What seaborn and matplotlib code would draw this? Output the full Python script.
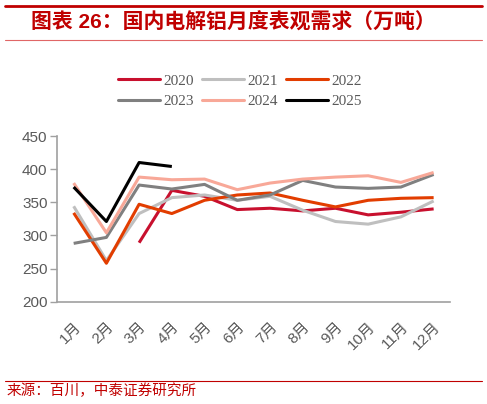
import numpy as np
import pandas as pd
import matplotlib
matplotlib.use("Agg")
import matplotlib.pyplot as plt
from matplotlib.lines import Line2D
import seaborn as sns

# monthly apparent demand, 10k tonnes
months = ["1月", "2月", "3月", "4月", "5月", "6月", "7月", "8月", "9月", "10月", "11月", "12月"]
years = ["2020", "2021", "2022", "2023", "2024", "2025"]
nan = np.nan
y2020 = [nan, nan, 289, 368, 359, 339, 341, 337, 341, 331, 335, 340]
y2021 = [344, 262, 333, 357, 361, 353, 359, 338, 321, 317, 328, 352]
y2022 = [334, 258, 347, 333, 353, 361, 364, 353, 343, 353, 356, 357]
y2023 = [288, 297, 376, 370, 377, 353, 361, 383, 373, 371, 373, 392]
y2024 = [379, 304, 388, 384, 385, 369, 379, 385, 388, 390, 380, 395]
y2025 = [373, 321, 410, 404]
colors = ["#C8102E", "#BFBFBF", "#E23D00", "#808080", "#F8A898", "#000000"]

series = [y2020, y2021, y2022, y2023, y2024, y2025]
rows = []
for yr, vals in zip(years, series):
    for i, v in enumerate(vals):
        rows.append({"month": i, "year": yr, "value": v})
df = pd.DataFrame(rows).dropna()

sns.set_style("white")
plt.rcParams['font.family'] = ['Liberation Sans', 'Noto Sans CJK SC']

fig = plt.figure(figsize=(4.87, 4.04), dpi=100)
ax = fig.add_axes([57.3 / 487, 1 - 301.7 / 404, (450 - 57.3) / 487, (301.7 - 136) / 404])

sns.lineplot(data=df, x="month", y="value", hue="year", hue_order=years,
             palette=dict(zip(years, colors)), linewidth=2.2, ax=ax,
             legend=False)
for ln in ax.lines:
    ln.set_solid_joinstyle("round")
    ln.set_solid_capstyle("butt")

ax.set_xlim(-0.5, 11.5)
ax.set_ylim(200, 450)
ax.set_yticks([200, 250, 300, 350, 400, 450])
ax.set_xticks(range(12))
ax.set_xticklabels(months, rotation=45, ha="right", va="top", rotation_mode="anchor")
ax.set_xticks(np.arange(0.5, 12, 1), minor=True)
ax.tick_params(axis="x", which="major", length=0, pad=13, labelsize=11, labelcolor="#595959")
ax.tick_params(axis="x", which="minor", length=3.6, width=1, color="#A0A0A0", direction="out")
ax.tick_params(axis="y", length=5, width=1, color="#A0A0A0", direction="out", pad=2,
               labelsize=11, labelcolor="#595959", left=True)
ax.set_xlabel("")
ax.set_ylabel("")
for side in ["top", "right"]:
    ax.spines[side].set_visible(False)
for side in ["left", "bottom"]:
    ax.spines[side].set_color("#A0A0A0")
    ax.spines[side].set_linewidth(1.2)

# legend fills column by column, so reorder to get rows 2020-2022 / 2023-2025
order = [0, 3, 1, 4, 2, 5]
handles = [Line2D([], [], color=colors[k], lw=2.2) for k in order]
labels = [years[k] for k in order]
fig.legend(handles, labels, ncol=3, loc="center", bbox_to_anchor=(240 / 487, 1 - 91 / 404),
           frameon=False, handlelength=2.75, handletextpad=0.25, columnspacing=0.5,
           labelspacing=0.45, prop={"family": "Liberation Serif", "size": 11},
           labelcolor="#595959")

# header / footer
red = "#C00000"
fig.add_artist(Line2D([5 / 487, 482 / 487], [1 - 5.7 / 404] * 2, color=red, lw=2))
fig.add_artist(Line2D([5 / 487, 482 / 487], [1 - 40 / 404] * 2, color="#E06666", lw=0.8))
fig.text(31 / 487, 1 - 23 / 404, "图表 26：国内电解铝月度表观需求（万吨）", color=red,
         fontsize=15, fontweight="bold", va="center", ha="left",
         family=['Liberation Sans', 'Noto Sans CJK SC'])
fig.add_artist(Line2D([5 / 487, 482 / 487], [1 - 380.7 / 404] * 2, color=red, lw=0.8))
fig.text(7 / 487, 1 - 391 / 404, "来源：百川，中泰证券研究所", color=red, fontsize=10.5,
         va="center", ha="left", family=['Noto Sans CJK SC', 'DejaVu Sans'])

fig.savefig("out.png", dpi=100)
